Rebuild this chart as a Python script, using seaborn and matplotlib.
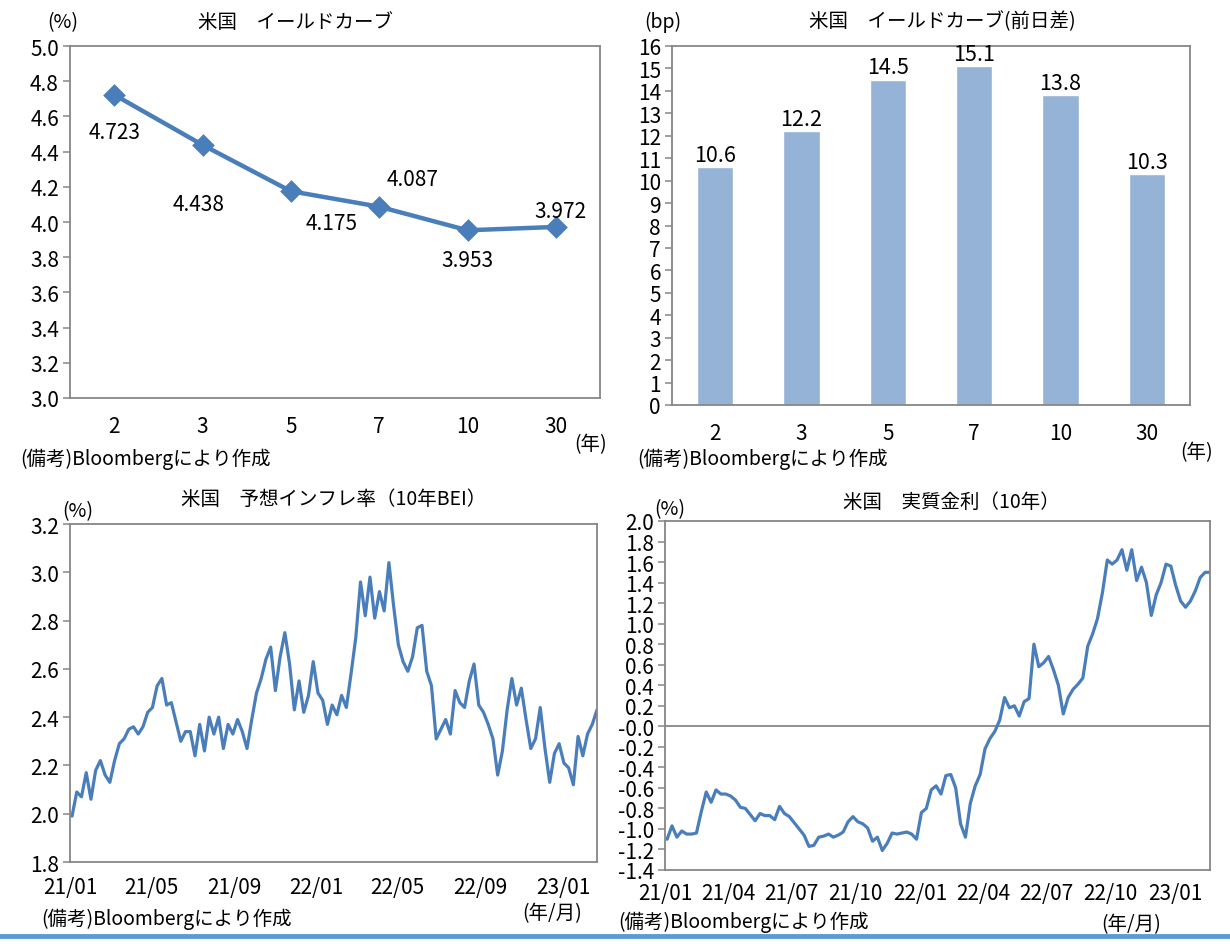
import numpy as np
import pandas as pd
import matplotlib
matplotlib.use("Agg")
import matplotlib.pyplot as plt
from matplotlib.lines import Line2D
import seaborn as sns

# ---------------- data ----------------
maturities = ["2", "3", "5", "7", "10", "30"]
yields = [4.723, 4.438, 4.175, 4.087, 3.953, 3.972]
yield_changes = [10.6, 12.2, 14.5, 15.1, 13.8, 10.3]

bei_10y = [1.99, 2.09, 2.07, 2.17, 2.06, 2.18, 2.22, 2.16, 2.13, 2.22,
           2.29, 2.31, 2.35, 2.36, 2.33, 2.36, 2.42, 2.44, 2.53, 2.56,
           2.45, 2.46, 2.38, 2.30, 2.34, 2.34, 2.24, 2.37, 2.26, 2.40,
           2.33, 2.40, 2.27, 2.37, 2.33, 2.39, 2.34, 2.27, 2.39, 2.50,
           2.56, 2.64, 2.69, 2.51, 2.65, 2.75, 2.62, 2.43, 2.55, 2.42,
           2.49, 2.63, 2.50, 2.47, 2.37, 2.45, 2.41, 2.49, 2.44, 2.58,
           2.73, 2.96, 2.82, 2.98, 2.81, 2.92, 2.84, 3.04, 2.86, 2.70,
           2.63, 2.59, 2.65, 2.77, 2.78, 2.59, 2.53, 2.31, 2.35, 2.39,
           2.33, 2.51, 2.46, 2.44, 2.55, 2.62, 2.45, 2.42, 2.37, 2.31,
           2.16, 2.26, 2.43, 2.56, 2.45, 2.52, 2.39, 2.27, 2.31, 2.44,
           2.27, 2.13, 2.25, 2.29, 2.21, 2.19, 2.12, 2.32, 2.24, 2.33,
           2.37, 2.43]

real_10y = [-1.10, -0.97, -1.08, -1.02, -1.05, -1.05, -1.04, -0.83, -0.64, -0.74,
            -0.62, -0.66, -0.66, -0.68, -0.72, -0.79, -0.80, -0.86, -0.92, -0.85,
            -0.87, -0.87, -0.91, -0.78, -0.85, -0.88, -0.94, -1.00, -1.06, -1.17,
            -1.16, -1.08, -1.07, -1.05, -1.08, -1.06, -1.03, -0.93, -0.88, -0.93,
            -0.95, -0.99, -1.12, -1.08, -1.21, -1.14, -1.04, -1.05, -1.04, -1.03,
            -1.05, -1.10, -0.84, -0.80, -0.62, -0.58, -0.66, -0.48, -0.47, -0.60,
            -0.95, -1.08, -0.75, -0.58, -0.47, -0.22, -0.12, -0.05, 0.06, 0.28,
            0.18, 0.20, 0.10, 0.24, 0.27, 0.80, 0.58, 0.62, 0.68, 0.55,
            0.40, 0.12, 0.28, 0.36, 0.41, 0.47, 0.78, 0.90, 1.05, 1.30,
            1.62, 1.58, 1.62, 1.72, 1.52, 1.72, 1.42, 1.55, 1.40, 1.08,
            1.28, 1.40, 1.58, 1.56, 1.37, 1.22, 1.16, 1.22, 1.32, 1.45,
            1.50, 1.50]

bei_ticks = ["21/01", "21/05", "21/09", "22/01", "22/05", "22/09", "23/01"]
real_ticks = ["21/01", "21/04", "21/07", "21/10", "22/01", "22/04", "22/07", "22/10", "23/01"]

dates = pd.date_range("2021-01-04", periods=len(bei_10y), freq="7D")

# ---------------- style ----------------
sns.set_theme(style="white")
plt.rcParams['font.family'] = ['Noto Sans CJK JP', 'DejaVu Sans']
plt.rcParams['axes.unicode_minus'] = False

W, H = 1230, 945
fig = plt.figure(figsize=(W / 100, H / 100), dpi=100)
fig.patch.set_facecolor("white")

LINE = "#4a7ebb"
BAR = "#95b3d7"
SPINE = "#868686"
TXT = "#000000"
TICKFS = 15
LBLFS = 14


def px_axes(l, t, r, b):
    return fig.add_axes([l / W, 1 - b / H, (r - l) / W, (b - t) / H])


def ftext(x, y, s, size=LBLFS, ha="left"):
    fig.text(x / W, 1 - y / H, s, fontsize=size, ha=ha, va="center", color=TXT)


def style_axes(ax, xpad=5):
    for sp in ax.spines.values():
        sp.set_visible(True)
        sp.set_color(SPINE)
        sp.set_linewidth(1.3)
    ax.tick_params(axis="y", which="both", left=True, length=5, width=1.1,
                   color=SPINE, labelsize=TICKFS, pad=3, labelcolor=TXT)
    ax.tick_params(axis="x", bottom=False, labelsize=TICKFS, pad=xpad, labelcolor=TXT)
    ax.set_xlabel("")
    ax.set_ylabel("")
    ax.grid(False)


# ---------- panel 1: yield curve ----------
ax1 = px_axes(70, 47, 600, 399)
df1 = pd.DataFrame({"mat": maturities, "y": yields})
sns.pointplot(data=df1, x="mat", y="y", ax=ax1, color=LINE, markers="D",
              markersize=9, linewidth=3.2)
ax1.set_ylim(3.0, 5.0)
ax1.set_yticks(np.arange(3.0, 5.01, 0.2))
ax1.set_yticklabels([f"{v:.1f}" for v in np.arange(3.0, 5.01, 0.2)])
ax1.set_xlim(-0.5, 5.5)
style_axes(ax1, xpad=6)
label_offsets = [(0, -37), (-4, -59), (41, -32), (33, 28), (0, -30), (5, 16)]
for i, (v, off) in enumerate(zip(yields, label_offsets)):
    ax1.annotate(f"{v:.3f}", (i, v), xytext=(off[0] * 0.72, off[1] * 0.72),
                 textcoords="offset points", ha="center", va="center",
                 fontsize=15, color=TXT)
ftext(296, 23, "米国　イールドカーブ", size=14, ha="center")
ftext(63, 23, "(%)", size=14, ha="center")
ftext(591, 445, "(年)", size=14, ha="center")
ftext(20, 459, "(備考)Bloombergにより作成", size=14)

# ---------- panel 2: yield change bars ----------
ax2 = px_axes(672, 47, 1190, 406)
df2 = pd.DataFrame({"mat": maturities, "chg": yield_changes})
sns.barplot(data=df2, x="mat", y="chg", ax=ax2, color=BAR, width=0.42,
            saturation=1)
ax2.set_ylim(0, 16)
ax2.set_yticks(range(0, 17))
ax2.set_xlim(-0.5, 5.5)
style_axes(ax2, xpad=6)
for i, v in enumerate(yield_changes):
    ax2.annotate(f"{v:.1f}", (i, v), xytext=(0, 1), textcoords="offset points",
                 ha="center", va="bottom", fontsize=15.5, color=TXT)
ftext(942, 22, "米国　イールドカーブ(前日差)", size=14, ha="center")
ftext(663, 22, "(bp)", size=14, ha="center")
ftext(1197, 453, "(年)", size=14, ha="center")
ftext(637, 459, "(備考)Bloombergにより作成", size=14)

# ---------- panel 3: BEI ----------
ax3 = px_axes(70, 525, 597, 863)
df3 = pd.DataFrame({"date": dates, "v": bei_10y})
sns.lineplot(data=df3, x="date", y="v", ax=ax3, color=LINE, linewidth=2.3)
ax3.set_ylim(1.8, 3.2)
ax3.set_yticks(np.arange(1.8, 3.21, 0.2))
ax3.set_yticklabels([f"{v:.1f}" for v in np.arange(1.8, 3.21, 0.2)])
ax3.set_xlim(pd.Timestamp("2021-01-01"), dates[-1])
tick_dates3 = [pd.Timestamp(f"20{t[:2]}-{t[3:]}-01") for t in bei_ticks]
ax3.set_xticks(tick_dates3)
ax3.set_xticklabels(bei_ticks)
style_axes(ax3, xpad=4)
ftext(334, 500, "米国　予想インフレ率（10年BEI）", size=14, ha="center")
ftext(78, 512, "(%)", size=14, ha="center")
ftext(41, 919, "(備考)Bloombergにより作成", size=14)
ftext(552, 914, "(年/月)", size=14, ha="center")

# ---------- panel 4: real rate ----------
ax4 = px_axes(665, 522, 1210, 871)
df4 = pd.DataFrame({"date": dates, "v": real_10y})
ax4.axhline(0, color=SPINE, linewidth=1.3, zorder=1)
sns.lineplot(data=df4, x="date", y="v", ax=ax4, color=LINE, linewidth=2.3)
ax4.set_ylim(-1.4, 2.0)
yt4 = np.round(np.arange(-1.4, 2.01, 0.2), 1)
ax4.set_yticks(yt4)
ax4.set_yticklabels([f"{v:.1f}" for v in yt4])
ax4.set_xlim(pd.Timestamp("2021-01-01"), dates[-1])
tick_dates4 = [pd.Timestamp(f"20{t[:2]}-{t[3:]}-01") for t in real_ticks]
ax4.set_xticks(tick_dates4)
ax4.set_xticklabels(real_ticks)
style_axes(ax4, xpad=3)
ftext(951, 502, "米国　実質金利（10年）", size=14, ha="center")
ftext(670, 510, "(%)", size=14, ha="center")
ftext(618, 922, "(備考)Bloombergにより作成", size=14)
ftext(1131, 925, "(年/月)", size=14, ha="center")

# bottom rule
fig.add_artist(Line2D([0, 1], [1 - 937 / H, 1 - 937 / H], transform=fig.transFigure,
                      color="#5b9bd5", linewidth=3.5))

fig.savefig("out.png", dpi=100, facecolor="white")
